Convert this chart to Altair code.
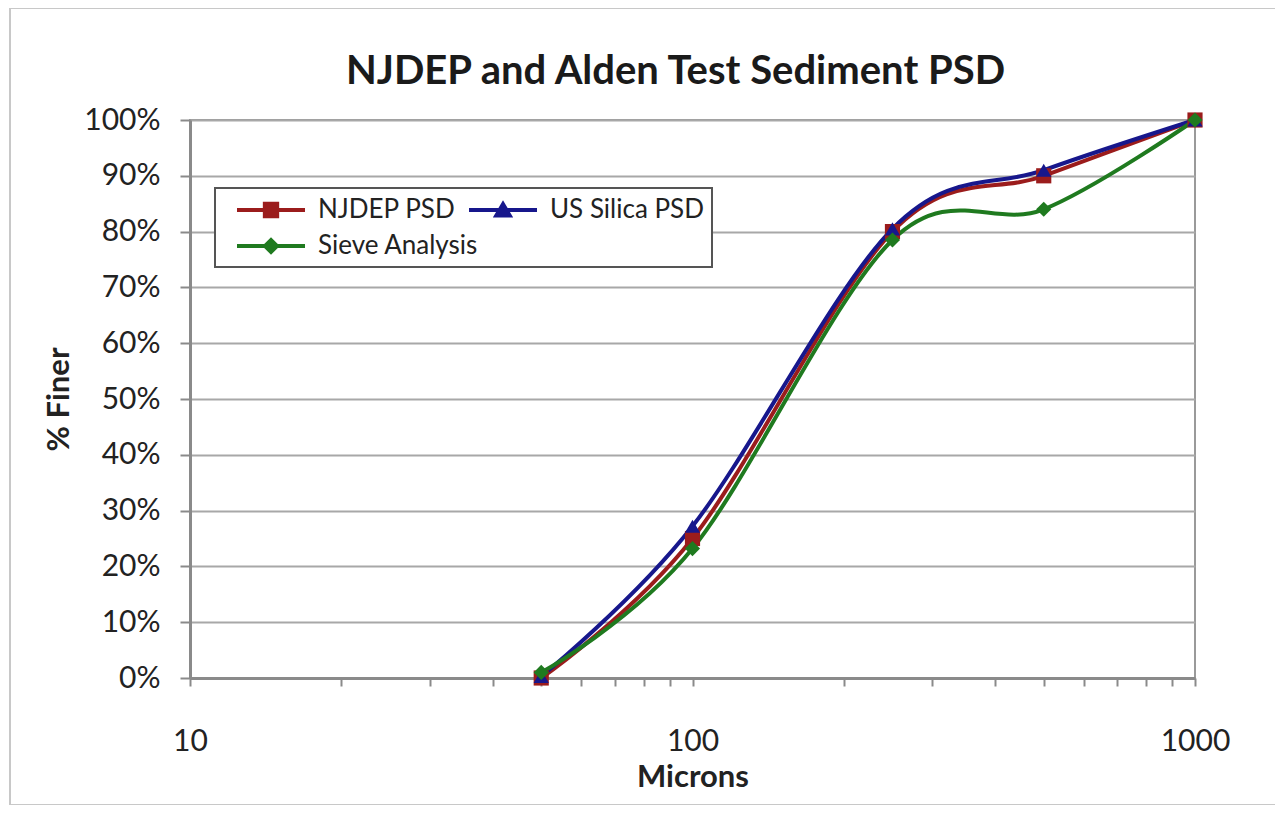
import altair as alt
import pandas as pd

# ---- data ----
microns = [50, 100, 250, 500, 1000]
njdep_psd = [0.000, 0.250, 0.800, 0.900, 1.000]
us_silica_psd = [0.003, 0.272, 0.805, 0.910, 1.000]
sieve_analysis = [0.010, 0.232, 0.785, 0.840, 1.000]

series_names = ["NJDEP PSD", "US Silica PSD", "Sieve Analysis"]
series_colors = ["#9b1c1c", "#17178c", "#1f7a1f"]
plot_shapes = ["square", "triangle-up", "diamond"]
# legend entries are laid out column-major: this order gives
# row 1: NJDEP PSD, US Silica PSD / row 2: Sieve Analysis
legend_order = ["NJDEP PSD", "Sieve Analysis", "US Silica PSD"]
legend_colors = ["#9b1c1c", "#1f7a1f", "#17178c"]
# legend symbols: a line with the marker on it
legend_shapes = [
    "M0,-0.15H5V0.15H0Z M1.9,-0.6H3.1V0.6H1.9Z",
    "M0,-0.15H5V0.15H0Z M2.5,-0.65L3.15,0L2.5,0.65L1.85,0Z",
    "M0,-0.15H5V0.15H0Z M2.5,-0.72L3.25,0.55L1.75,0.55Z",
]
x_tick_values = [10, 20, 30, 40, 50, 60, 70, 80, 90,
                 100, 200, 300, 400, 500, 600, 700, 800, 900, 1000]
y_tick_values = [0, 0.1, 0.2, 0.3, 0.4, 0.5, 0.6, 0.7, 0.8, 0.9, 1.0]

rows = []
for name, vals in zip(series_names, [njdep_psd, us_silica_psd, sieve_analysis]):
    for m, v in zip(microns, vals):
        rows.append({"series": name, "microns": m, "finer": v})
df = pd.DataFrame(rows)

FONT = "Lato"

color_scale = alt.Scale(domain=series_names, range=series_colors)

x_enc = alt.X(
    "microns:Q",
    scale=alt.Scale(type="log", domain=[10, 1000], nice=False),
    axis=alt.Axis(
        title="Microns",
        values=x_tick_values,
        labelExpr="(datum.value == 10 || datum.value == 100 || datum.value == 1000) ? format(datum.value, 'd') : ''",
        grid=False,
        tickSize=8,
        labelPadding=40,
        titlePadding=6,
        labelFlush=False,
        labelOverlap=False,
    ),
)
y_enc = alt.Y(
    "finer:Q",
    scale=alt.Scale(domain=[0, 1], nice=False),
    axis=alt.Axis(
        title="% Finer",
        values=y_tick_values,
        format=".0%",
        grid=True,
        tickSize=10,
        labelPadding=20,
        titlePadding=8,
    ),
)

border = alt.Chart(pd.DataFrame({"k": [0]})).mark_rect(
    fillOpacity=0, stroke="#c8c8c8", strokeWidth=2
).encode(
    x=alt.value(-180), x2=alt.value(1090), y=alt.value(-112), y2=alt.value(685)
)

lines = alt.Chart(df).mark_line(interpolate="cardinal", strokeWidth=4).encode(
    x=x_enc,
    y=y_enc,
    color=alt.Color("series:N", scale=color_scale, legend=None),
    detail="series:N",
)

points = alt.Chart(df).mark_point(filled=True, size=230, opacity=1).encode(
    x=x_enc,
    y=y_enc,
    color=alt.Color("series:N", scale=color_scale, legend=None),
    shape=alt.Shape("series:N", scale=alt.Scale(domain=series_names, range=plot_shapes), legend=None),
)

# non-breaking spaces widen the legend box toward the reference's width
pad = "\u00a0" * 18
legend_label_expr = "datum.value == 'US Silica PSD' ? 'US Silica PSD" + pad + "' : datum.value"

legend_layer = alt.Chart(df).transform_filter("false").mark_point(filled=True).encode(
    x=x_enc,
    y=y_enc,
    color=alt.Color(
        "series:N",
        scale=alt.Scale(domain=legend_order, range=legend_colors),
        legend=alt.Legend(title=None, labelExpr=legend_label_expr),
    ),
    shape=alt.Shape(
        "series:N",
        scale=alt.Scale(domain=legend_order, range=legend_shapes),
        legend=alt.Legend(title=None, labelExpr=legend_label_expr),
    ),
)

chart = alt.layer(border, lines, points, legend_layer).resolve_scale(
    color="independent", shape="independent"
).properties(
    width=1005,
    height=558,
    padding={"left": 182, "top": 112, "right": 80, "bottom": 127},
    autosize=alt.AutoSizeParams(type="none"),
    title=alt.TitleParams(
        "NJDEP and Alden Test Sediment PSD",
        fontSize=40,
        font=FONT,
        fontWeight="bold",
        color="#1a1a1a",
        anchor="middle",
        frame="group",
        dx=-17,
        offset=-85,
    ),
).configure_view(
    stroke="#9a9a9a", strokeWidth=2
).configure_axis(
    labelFont=FONT,
    labelFontSize=30,
    labelColor="#222222",
    titleFont=FONT,
    titleFontSize=31,
    titleFontWeight="bold",
    titleColor="#222222",
    domainColor="#8a8a8a",
    domainWidth=3,
    tickColor="#8a8a8a",
    tickWidth=2,
    gridColor="#a8a8a8",
    gridWidth=2,
).configure_legend(
    orient="none",
    legendX=25,
    legendY=68,
    columns=2,
    gridAlign="none",
    columnPadding=-24,
    rowPadding=9,
    padding=8,
    strokeColor="#555555",
    strokeWidth=2,
    fillColor="white",
    symbolSize=740,
    symbolStrokeWidth=0,
    symbolOpacity=1,
    labelOffset=67,
    labelFont=FONT,
    labelFontSize=26,
    labelColor="#222222",
    labelLimit=600,
)

chart.save("out.html", embed_options={"renderer": "svg", "actions": False})
